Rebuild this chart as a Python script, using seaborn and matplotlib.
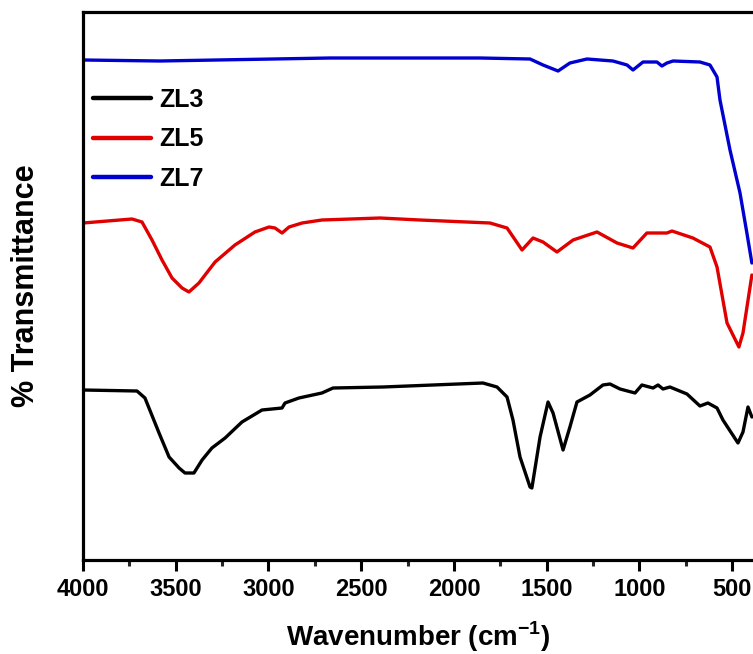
"""FTIR spectra of ZL3 / ZL5 / ZL7 (offset % transmittance traces)."""

import matplotlib
matplotlib.use("Agg")
import matplotlib.pyplot as plt
import numpy as np
import pandas as pd
import seaborn as sns
from matplotlib.ticker import MultipleLocator

# wavenumber (cm-1) / offset transmittance (a.u.)
zl3_wn = [4000, 3709, 3666, 3590, 3536, 3482, 3450, 3402, 3358, 3305, 3234, 3143,
          3035, 2927, 2911, 2836, 2712, 2652, 2383, 2113, 1844, 1768, 1714, 1682,
          1644, 1590, 1580, 1536, 1493, 1466, 1412, 1375, 1337, 1267, 1197, 1159,
          1105, 1024, 987, 927, 900, 873, 836, 744, 674, 631, 582, 550, 469, 442,
          415, 394]
zl3_t = [170, 169, 162, 127, 103, 92, 87, 87, 100, 112, 122, 138,
         150, 152, 157, 162, 167, 172, 173, 175, 177, 173, 163, 140,
         103, 73, 72, 123, 158, 147, 110, 133, 158, 165, 175, 176,
         171, 167, 175, 172, 175, 171, 173, 166, 154, 157, 152, 140, 117, 128,
         153, 143]

zl5_wn = [4000, 3736, 3682, 3628, 3574, 3520, 3466, 3429, 3375, 3288, 3181, 3073,
          2997, 2965, 2927, 2889, 2819, 2712, 2399, 2183, 1806, 1714, 1633, 1574,
          1520, 1445, 1358, 1229, 1121, 1035, 960, 852, 825, 712, 620, 582, 528,
          464, 442, 394]
zl5_t = [337, 341, 338, 320, 300, 282, 272, 268, 277, 298, 315, 328,
         333, 332, 327, 333, 337, 340, 342, 340, 337, 332, 310, 322,
         318, 308, 320, 328, 317, 312, 327, 327, 329, 322, 313, 293, 237,
         213, 227, 285]

zl7_wn = [4000, 3585, 2668, 1860, 1590, 1520, 1439, 1375, 1283, 1143, 1067, 1035,
          981, 906, 879, 852, 819, 674, 620, 582, 566, 512, 458, 421, 394]
zl7_t = [500, 499, 502, 502, 501, 495, 489, 497, 501, 499, 495, 490,
         498, 498, 494, 497, 499, 498, 495, 483, 460, 410, 367, 327, 297]

samples = ["ZL3", "ZL5", "ZL7"]
colors = {"ZL3": "#000000", "ZL5": "#e00000", "ZL7": "#0000d0"}

df = pd.concat(
    [
        pd.DataFrame({"wavenumber": zl3_wn, "T": zl3_t, "sample": "ZL3"}),
        pd.DataFrame({"wavenumber": zl5_wn, "T": zl5_t, "sample": "ZL5"}),
        pd.DataFrame({"wavenumber": zl7_wn, "T": zl7_t, "sample": "ZL7"}),
    ],
    ignore_index=True,
)

sns.set_style("ticks")
plt.rcParams["font.family"] = ["Liberation Sans", "DejaVu Sans"]
plt.rcParams["font.weight"] = "bold"
plt.rcParams["text.color"] = "black"
plt.rcParams["axes.labelcolor"] = "black"
plt.rcParams["mathtext.fontset"] = "custom"
plt.rcParams["mathtext.rm"] = "Liberation Sans:bold"
plt.rcParams["mathtext.bf"] = "Liberation Sans:bold"

fig = plt.figure(figsize=(7.53, 6.54), dpi=100)
ax = fig.add_axes([83 / 753, 1 - 560 / 654, 670 / 753, 548 / 654])

sns.lineplot(data=df, x="wavenumber", y="T", hue="sample", hue_order=samples,
             palette=colors, linewidth=2.4, estimator=None, ax=ax)

ax.set_xlim(4000, 388)
ax.set_ylim(0, 548)
ax.xaxis.set_major_locator(MultipleLocator(500))
ax.xaxis.set_minor_locator(MultipleLocator(250))
ax.set_yticks([])
ax.tick_params(axis="x", which="major", direction="out", length=8, width=2.2,
               labelsize=17, pad=5, colors="black")
ax.tick_params(axis="x", which="minor", direction="out", length=4, width=2.2)
for lab in ax.get_xticklabels():
    lab.set_fontweight("bold")
    lab.set_color("black")

for side in ["left", "top", "bottom"]:
    ax.spines[side].set_linewidth(2.3)
    ax.spines[side].set_color("black")
ax.spines["right"].set_visible(False)

ax.set_xlabel(r"Wavenumber (cm$^{-1}$)", fontsize=20, fontweight="bold",
              labelpad=13, color="black")
ax.set_ylabel("% Transmittance", fontsize=22, fontweight="bold", labelpad=30,
              color="black")

leg = ax.legend(loc="upper left", bbox_to_anchor=(0.0, 0.88), frameon=False,
                fontsize=18, handlelength=2.3, handletextpad=0.36,
                labelspacing=0.62, borderpad=0.2, borderaxespad=0.2)
for line in leg.get_lines():
    line.set_linewidth(3.2)
for txt in leg.get_texts():
    txt.set_fontweight("bold")
    txt.set_color("black")

fig.savefig("out.png", dpi=100)
